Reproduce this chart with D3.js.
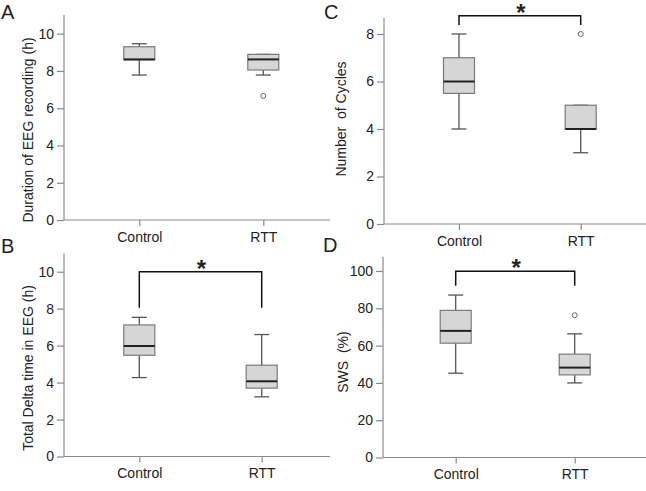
<!DOCTYPE html>
<html>
<head>
<meta charset="utf-8">
<script src="https://cdn.jsdelivr.net/npm/d3@7"></script>
<style>
  html, body { margin: 0; padding: 0; background: #fff; }
  svg { display: block; }
  text { font-family: "Liberation Sans", Arial, sans-serif; fill: #222; }
</style>
</head>
<body>
<svg id="chart" width="646" height="491"></svg>
<script>
// ---------------- DATA ----------------
const categories = ["Control", "RTT"];
// five-number summaries [min, q1, median, q3, max]
const durationControl = [7.78, 8.6, 8.62, 9.3, 9.46];
const durationRTT     = [7.78, 8.05, 8.62, 8.89, 8.89];
const durationOutliers = [[], [6.66]];

const deltaControl = [4.27, 5.48, 5.98, 7.12, 7.53];
const deltaRTT     = [3.23, 3.70, 4.07, 4.94, 6.6];
const deltaOutliers = [[], []];

const cyclesControl = [4, 5.5, 6, 7, 8];
const cyclesRTT     = [3, 4, 4, 5, 5];
const cyclesOutliers = [[], [8]];

const swsControl = [45.2, 61.3, 67.9, 78.9, 87.1];
const swsRTT     = [40.0, 44.3, 48.2, 55.4, 66.3];
const swsOutliers = [[], [76.3]];

const durationTicks = [0, 2, 4, 6, 8, 10];
const deltaTicks    = [0, 2, 4, 6, 8, 10];
const cyclesTicks   = [0, 2, 4, 6, 8];
const swsTicks      = [0, 20, 40, 60, 80, 100];

// significance brackets [bar level, leg end level]
const deltaBracket  = [10.0, 8.05];
const cyclesBracket = [8.77, 8.38];
const swsBracket    = [99.8, 92.1];

const panelLabels = ["A", "B", "C", "D"];
const yTitles = ["Duration of EEG recording (h)", "Total Delta time in EEG (h)", "Number  of Cycles", "SWS  (%)"];

// ---------------- LAYOUT ----------------
const svg = d3.select("#chart");

const panels = [
  { label: panelLabels[0], labelPos: [1, 18.5], title: yTitles[0], titlePos: [33, 130],
    axisX: 64, xEnd: 330, y0: 220, yTopPx: 15, yMax: 11, px10: 33.7, refVal: 10,
    cx: [139.3, 263.3], stats: [durationControl, durationRTT], outliers: durationOutliers,
    ticks: durationTicks, bracket: null },
  { label: panelLabels[1], labelPos: [1, 252.5], title: yTitles[1], titlePos: [33, 368],
    axisX: 64, xEnd: 330, y0: 456.5, yTopPx: 253, yMax: 11, px10: 271.7, refVal: 10,
    cx: [139.3, 261.7], stats: [deltaControl, deltaRTT], outliers: deltaOutliers,
    ticks: deltaTicks, bracket: deltaBracket },
  { label: panelLabels[2], labelPos: [324, 18.5], title: yTitles[2], titlePos: [346, 119],
    axisX: 384, xEnd: 646, y0: 224, yTopPx: 18, yMax: 8.67, px10: 34, refVal: 8,
    cx: [459, 580.7], stats: [cyclesControl, cyclesRTT], outliers: cyclesOutliers,
    ticks: cyclesTicks, bracket: cyclesBracket },
  { label: panelLabels[3], labelPos: [323, 252], title: yTitles[3], titlePos: [348, 362],
    axisX: 383, xEnd: 646, y0: 457.5, yTopPx: 256.7, yMax: 107.7, px10: 271, refVal: 100,
    cx: [455.7, 574.7], stats: [swsControl, swsRTT], outliers: swsOutliers,
    ticks: swsTicks, bracket: swsBracket }
];

const axisColor = "#8a8a8a";
const boxStroke = "#7a7a7a";
const whiskerColor = "#555";
const boxFill = "#d6d6d6";
const boxW = 31, capW = 15;

panels.forEach(p => {
  const g = svg.append("g");
  const y = d3.scaleLinear().domain([0, p.refVal]).range([p.y0, p.px10]);
  const x = d3.scalePoint().domain(categories).range(p.cx).padding(0);

  // y axis
  const yAxis = d3.axisLeft(y).tickValues(p.ticks).tickSize(7).tickPadding(3).tickSizeOuter(0);
  const ya = g.append("g").attr("transform", `translate(${p.axisX},0)`).call(yAxis);
  ya.select(".domain").remove();
  ya.selectAll(".tick line").attr("stroke", axisColor).attr("stroke-width", 1.2);
  ya.selectAll(".tick text").attr("font-size", 14).attr("fill", "#333")
    .style("font-family", "'Liberation Sans', Arial, sans-serif");
  g.append("line").attr("x1", p.axisX).attr("x2", p.axisX)
    .attr("y1", y(p.yMax)).attr("y2", p.y0)
    .attr("stroke", axisColor).attr("stroke-width", 1.2);

  // x axis
  const xAxis = d3.axisBottom(x).tickSize(6).tickPadding(6).tickSizeOuter(0);
  const xa = g.append("g").attr("transform", `translate(0,${p.y0})`).call(xAxis);
  xa.select(".domain").remove();
  xa.selectAll(".tick line").attr("stroke", axisColor).attr("stroke-width", 1.2);
  xa.selectAll(".tick text").attr("font-size", 14).attr("fill", "#333")
    .style("font-family", "'Liberation Sans', Arial, sans-serif");
  g.append("line").attr("x1", p.axisX).attr("x2", p.xEnd)
    .attr("y1", p.y0).attr("y2", p.y0)
    .attr("stroke", axisColor).attr("stroke-width", 1.2);

  // boxes
  categories.forEach((c, i) => {
    const s = p.stats[i];
    const cx = x(c);
    const bg = g.append("g");
    // whiskers
    bg.append("line").attr("x1", cx).attr("x2", cx).attr("y1", y(s[4])).attr("y2", y(s[3]))
      .attr("stroke", whiskerColor).attr("stroke-width", 1.3);
    bg.append("line").attr("x1", cx).attr("x2", cx).attr("y1", y(s[1])).attr("y2", y(s[0]))
      .attr("stroke", whiskerColor).attr("stroke-width", 1.3);
    bg.append("line").attr("x1", cx - capW / 2).attr("x2", cx + capW / 2).attr("y1", y(s[4])).attr("y2", y(s[4]))
      .attr("stroke", whiskerColor).attr("stroke-width", 1.3);
    bg.append("line").attr("x1", cx - capW / 2).attr("x2", cx + capW / 2).attr("y1", y(s[0])).attr("y2", y(s[0]))
      .attr("stroke", whiskerColor).attr("stroke-width", 1.3);
    // box
    bg.append("rect").attr("x", cx - boxW / 2).attr("width", boxW)
      .attr("y", y(s[3])).attr("height", Math.max(0.5, y(s[1]) - y(s[3])))
      .attr("fill", boxFill).attr("stroke", boxStroke).attr("stroke-width", 1.2);
    // median
    bg.append("line").attr("x1", cx - boxW / 2).attr("x2", cx + boxW / 2)
      .attr("y1", y(s[2])).attr("y2", y(s[2]))
      .attr("stroke", "#222").attr("stroke-width", 2);
    // outliers
    p.outliers[i].forEach(v => {
      bg.append("circle").attr("cx", cx).attr("cy", y(v)).attr("r", 2.5)
        .attr("fill", "#fff").attr("stroke", "#666").attr("stroke-width", 1);
    });
  });

  // significance bracket
  if (p.bracket) {
    const [top, leg] = p.bracket;
    const x1 = x(categories[0]), x2 = x(categories[1]);
    g.append("path")
      .attr("d", `M${x1},${y(leg)}V${y(top)}H${x2}V${y(leg)}`)
      .attr("fill", "none").attr("stroke", "#111").attr("stroke-width", 1.5);
    g.append("text").attr("x", (x1 + x2) / 2 + 1).attr("y", y(top) + 5)
      .attr("text-anchor", "middle").attr("font-size", 24).attr("font-weight", "bold")
      .attr("fill", "#111").text("*");
  }

  // y title
  g.append("text")
    .attr("transform", `translate(${p.titlePos[0]},${p.titlePos[1]}) rotate(-90)`)
    .attr("text-anchor", "middle").attr("font-size", 14).attr("fill", "#333")
    .style("white-space", "pre").attr("xml:space", "preserve")
    .text(p.title);

  // panel letter
  g.append("text").attr("x", p.labelPos[0]).attr("y", p.labelPos[1])
    .attr("font-size", 20).attr("fill", "#111").text(p.label);
});
</script>
</body>
</html>
